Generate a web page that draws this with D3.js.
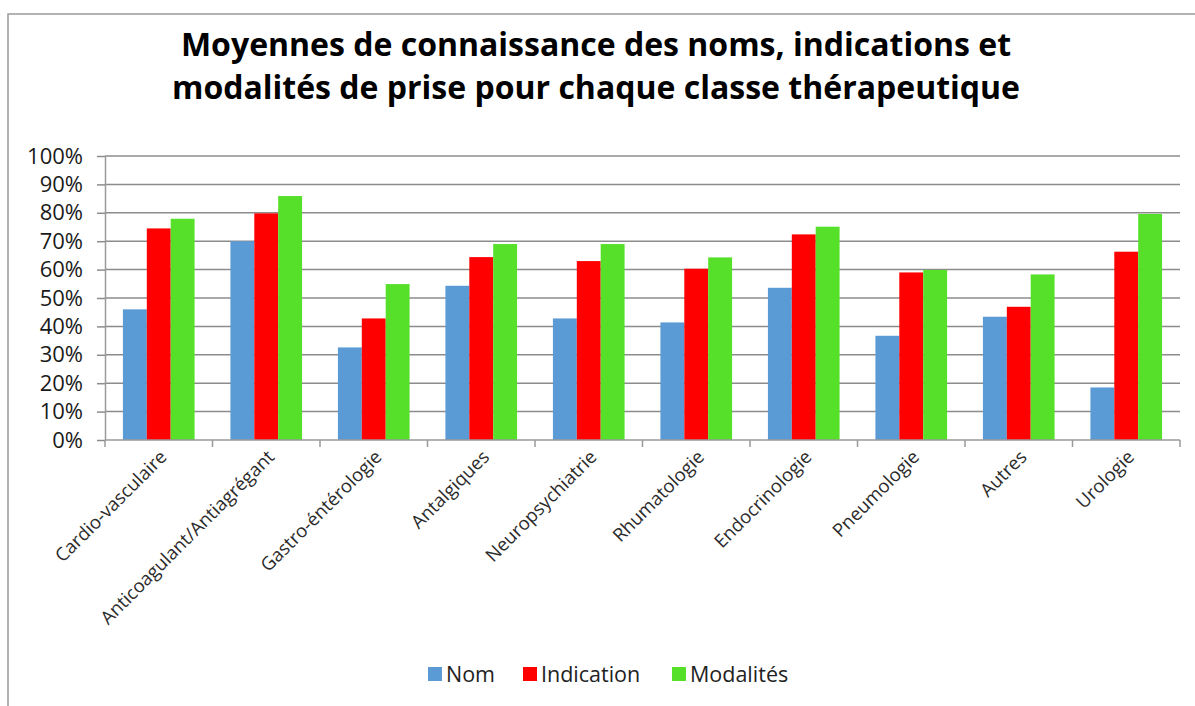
<!DOCTYPE html>
<html>
<head>
<meta charset="utf-8">
<script src="https://cdn.jsdelivr.net/npm/d3@7"></script>
<style>
  html, body { margin: 0; padding: 0; background: #fff; }
  svg { display: block; }
</style>
</head>
<body>
<div id="chart"></div>
<script>
// categories and values (percent)
const categories = ["Cardio-vasculaire", "Anticoagulant/Antiagrégant", "Gastro-éntérologie", "Antalgiques",
  "Neuropsychiatrie", "Rhumatologie", "Endocrinologie", "Pneumologie", "Autres", "Urologie"];
const seriesNames = ["Nom", "Indication", "Modalités"];
const nom = [46, 70, 32.6, 54.3, 42.8, 41.4, 53.6, 36.7, 43.4, 18.5];
const indication = [74.5, 79.8, 42.8, 64.4, 63, 60.3, 72.4, 59, 46.9, 66.3];
const modalites = [77.9, 85.9, 54.9, 69, 69, 64.3, 75.1, 59.9, 58.3, 79.6];
const yTicks = [0, 10, 20, 30, 40, 50, 60, 70, 80, 90, 100];
const titleLines = ["Moyennes de connaissance des noms, indications et",
  "modalités de prise pour chaque classe thérapeutique"];

const colors = ["#5b9bd5", "#ff0000", "#56e02a"];
const seriesValues = [nom, indication, modalites];

const width = 1195, height = 706;
const plot = {left: 105, right: 1180, top: 156, bottom: 440};

const svg = d3.select("#chart").append("svg")
    .attr("width", width)
    .attr("height", height);

// frame around the chart (right and bottom edges fall outside the picture)
svg.append("rect")
    .attr("x", 8).attr("y", 14)
    .attr("width", width + 20).attr("height", height + 20)
    .attr("fill", "none")
    .attr("stroke", "#9a9a9a")
    .attr("stroke-width", 1.5);

// title
svg.append("text")
    .attr("x", 596)
    .attr("y", 56)
    .attr("text-anchor", "middle")
    .style("font-family", "'Open Sans', sans-serif")
    .style("font-weight", "bold")
    .style("font-size", "32px")
    .style("fill", "#000")
    .selectAll("tspan")
    .data(titleLines)
    .enter()
    .append("tspan")
    .attr("x", 596)
    .attr("dy", (d, i) => i === 0 ? 0 : 43)
    .text(d => d);

const y = d3.scaleLinear()
    .domain([0, 100])
    .range([plot.bottom, plot.top]);

const x0 = d3.scaleBand()
    .domain(categories)
    .range([plot.left, plot.right])
    .padding(0);

// gap width 150% like excel
const x1 = d3.scaleBand()
    .domain(seriesNames)
    .range([0, x0.bandwidth()])
    .paddingInner(0)
    .paddingOuter(0.75);

// gridlines
svg.append("g")
    .selectAll("line")
    .data(yTicks.filter(d => d > 0))
    .enter()
    .append("line")
    .attr("x1", plot.left)
    .attr("x2", plot.right)
    .attr("y1", d => y(d))
    .attr("y2", d => y(d))
    .attr("stroke", "#8c8c8c")
    .attr("stroke-width", 1.5);

// y axis
const yAxis = svg.append("g")
    .attr("transform", `translate(${plot.left},0)`)
    .call(d3.axisLeft(y).tickValues(yTicks).tickSize(8).tickSizeOuter(0).tickPadding(14)
        .tickFormat(d => d + "%"));
yAxis.select(".domain").attr("stroke", "#9a9a9a").attr("stroke-width", 1.5);
yAxis.selectAll(".tick line").attr("stroke", "#8c8c8c").attr("stroke-width", 1.5);
yAxis.selectAll(".tick text")
    .style("font-family", "'Open Sans', sans-serif")
    .style("font-size", "22px")
    .style("fill", "#1a1a1a");

// bars
const groups = svg.append("g")
    .selectAll("g")
    .data(categories)
    .enter()
    .append("g")
    .attr("transform", d => `translate(${x0(d)},0)`);

groups.selectAll("rect")
    .data((d, i) => seriesNames.map((s, j) => ({s: s, v: seriesValues[j][i], c: colors[j]})))
    .enter()
    .append("rect")
    .attr("x", d => x1(d.s))
    .attr("y", d => y(d.v))
    .attr("width", x1.bandwidth())
    .attr("height", d => y(0) - y(d.v))
    .attr("fill", d => d.c);

// x axis: line + tick marks at category boundaries
svg.append("line")
    .attr("x1", plot.left).attr("x2", plot.right)
    .attr("y1", plot.bottom).attr("y2", plot.bottom)
    .attr("stroke", "#9a9a9a")
    .attr("stroke-width", 1.5);

const bounds = categories.map(c => x0(c)).concat([plot.right]);
svg.append("g")
    .selectAll("line")
    .data(bounds)
    .enter()
    .append("line")
    .attr("x1", d => d).attr("x2", d => d)
    .attr("y1", plot.bottom).attr("y2", plot.bottom + 7)
    .attr("stroke", "#9a9a9a")
    .attr("stroke-width", 1.5);

// rotated category labels
svg.append("g")
    .selectAll("text")
    .data(categories)
    .enter()
    .append("text")
    .attr("transform", d => `translate(${x0(d) + x0.bandwidth() / 2},${plot.bottom + 9}) rotate(-45)`)
    .attr("text-anchor", "end")
    .attr("dy", "0.7em")
    .style("font-family", "'Open Sans', sans-serif")
    .style("font-size", "18.5px")
    .style("fill", "#2b2b2b")
    .text(d => d);

// legend
const legendX = [428, 523, 672];
const legend = svg.append("g")
    .selectAll("g")
    .data(seriesNames)
    .enter()
    .append("g")
    .attr("transform", (d, i) => `translate(${legendX[i]},667)`);

legend.append("rect")
    .attr("width", 14)
    .attr("height", 14)
    .attr("fill", (d, i) => colors[i]);

legend.append("text")
    .attr("x", 18)
    .attr("y", 15)
    .style("font-family", "'Open Sans', sans-serif")
    .style("font-size", "21.5px")
    .style("fill", "#222")
    .text(d => d);
</script>
</body>
</html>
